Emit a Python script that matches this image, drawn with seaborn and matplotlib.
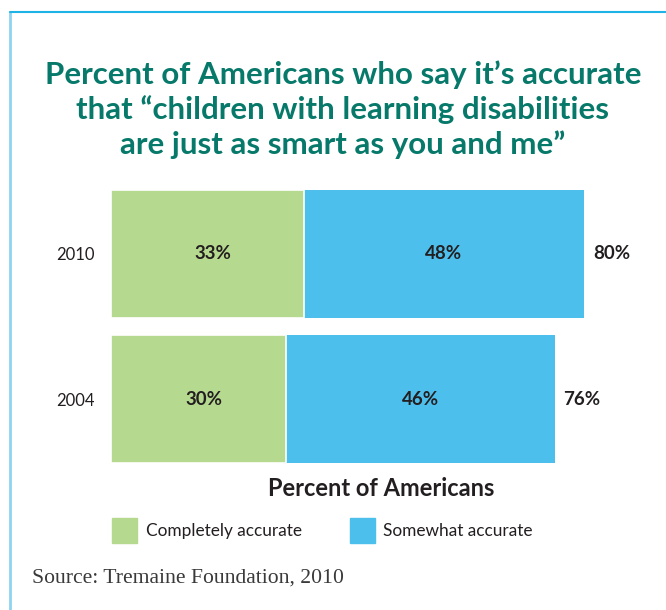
import matplotlib
matplotlib.use("Agg")
from matplotlib import pyplot as plt
from matplotlib.patches import Rectangle
import seaborn as sns
import pandas as pd

years = ['2010', '2004']
completely = [33, 30]
somewhat = [48, 46]
total_labels = ['80%', '76%']

GREEN = '#b5d98f'
BLUE = '#4dbfec'
TEAL = '#07796a'
INK = '#231f20'

sns.set_theme(style='white')
plt.rcParams['font.family'] = ['Lato', 'DejaVu Sans']

df = pd.DataFrame({'year': years, 'completely': completely, 'somewhat': somewhat})
df['cum'] = df['completely'] + df['somewhat']

fig = plt.figure(figsize=(6.66, 6.10), dpi=100)

# light blue frame on top/left
fig.add_artist(plt.Line2D([10/666, 10/666], [0, 1 - 12/610], color='#8fd3f0', lw=2, transform=fig.transFigure))
fig.add_artist(plt.Line2D([10/666, 1], [1 - 12/610, 1 - 12/610], color='#1eb3e6', lw=1.5, transform=fig.transFigure))

title_lines = ['Percent of Americans who say it\u2019s accurate',
               'that \u201cchildren with learning disabilities',
               'are just as smart as you and me\u201d']
for k, line in enumerate(title_lines):
    fig.text(343/666, 1 - (84 + 35 * k)/610, line, ha='center', va='baseline',
             fontsize=22.5, fontweight='bold', color=TEAL)

ax = fig.add_axes([111/666, 1 - 472/610, 473/666, 291/610])
sns.barplot(data=df, x='cum', y='year', order=years, color=BLUE, width=0.88,
            orient='h', ax=ax, saturation=1, linewidth=0)
sns.barplot(data=df, x='completely', y='year', order=years, color=GREEN, width=0.88,
            orient='h', ax=ax, saturation=1, edgecolor='white', linewidth=1.2)
ax.set_xlim(0, 81)
ax.set_ylim(1.5, -0.5)
sns.despine(ax=ax, left=True, bottom=True)
ax.set_xticks([])
ax.set_xlabel('')
ax.set_ylabel('')
ax.tick_params(axis='y', length=0, pad=12, labelsize=12, labelcolor=INK)

for i, row in df.iterrows():
    ax.text(row['completely'] / 2 + 1, i, f"{row['completely']}%", ha='center', va='center',
            fontsize=13.5, fontweight='bold', color=INK)
    ax.text(row['completely'] + row['somewhat'] / 2, i, f"{row['somewhat']}%", ha='center', va='center',
            fontsize=13.5, fontweight='bold', color=INK)
    ax.text(row['cum'] + 1.5, i, total_labels[i], ha='left', va='center',
            fontsize=13.5, fontweight='bold', color=INK)

fig.text(381/666, 1 - 488/610, 'Percent of Americans', ha='center', va='center',
         fontsize=17, fontweight='bold', color=INK)

fig.add_artist(Rectangle((112/666, 1 - 543/610), 25/666, 25/610, color=GREEN, transform=fig.transFigure))
fig.text(146/666, 1 - 531/610, 'Completely accurate', ha='left', va='center', fontsize=12.4, color=INK)
fig.add_artist(Rectangle((350/666, 1 - 543/610), 25/666, 25/610, color=BLUE, transform=fig.transFigure))
fig.text(383/666, 1 - 531/610, 'Somewhat accurate', ha='left', va='center', fontsize=12.4, color=INK)

fig.text(32/666, 1 - 578/610, 'Source: Tremaine Foundation, 2010', ha='left', va='center',
         fontsize=15.6, color='#3a3a3a', family=['Liberation Serif', 'DejaVu Serif'])

fig.savefig('out.png', dpi=100)
